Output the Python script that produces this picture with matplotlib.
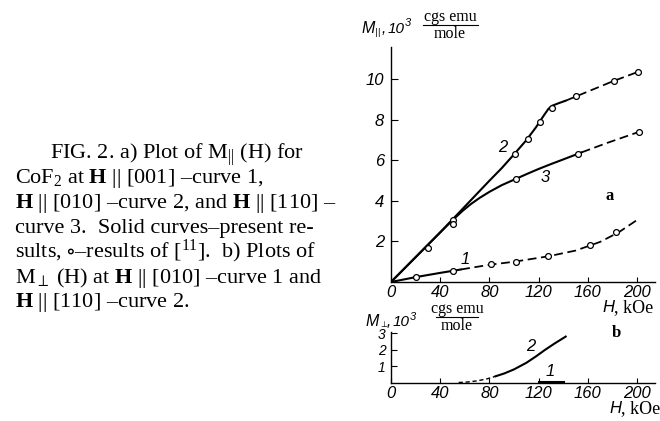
import matplotlib
matplotlib.use('Agg')
import matplotlib.pyplot as plt
from matplotlib.lines import Line2D

W, H = 660, 421

plt.rcParams['mathtext.fontset'] = 'custom'
plt.rcParams['mathtext.rm'] = 'Liberation Serif'
plt.rcParams['mathtext.it'] = 'Liberation Serif:italic'
plt.rcParams['mathtext.bf'] = 'Liberation Serif:bold'
plt.rcParams['mathtext.fallback'] = 'stix'

SANS = ['Liberation Sans', 'DejaVu Sans']
SERIF = ['Liberation Serif', 'DejaVu Serif']

# ---- data (a): M_par vs H, kOe / 10^3 cgs emu/mole ----
c1_solid_h = [0, 20, 40, 57]
c1_solid_m = [0, 0.24, 0.45, 0.62]
c1_dash_h = [57, 80, 100, 128, 150, 170, 185, 200]
c1_dash_m = [0.62, 0.85, 1.0, 1.27, 1.55, 1.98, 2.45, 3.06]
c1_pts_h = [20, 50, 81, 102, 128, 162, 183]
c1_pts_m = [0.26, 0.56, 0.87, 1.0, 1.27, 1.83, 2.47]

c2_solid_h = [0, 40, 80, 90, 100, 110, 118, 124, 128, 131, 136, 142]
c2_solid_m = [0, 2.45, 5.0, 5.62, 6.3, 7.0, 7.65, 8.2, 8.55, 8.7, 8.82, 8.95]
c2_dash_h = [142, 160, 180, 202]
c2_dash_m = [8.95, 9.4, 9.9, 10.4]
c2_pts_h = [30, 50, 101, 111, 121, 131, 150, 181, 201]
c2_pts_m = [1.7, 3.06, 6.32, 7.06, 7.9, 8.58, 9.17, 9.93, 10.39]

c3_solid_h = [0, 40, 50, 58, 65, 72, 80, 90, 100, 110, 120, 130, 140, 155]
c3_solid_m = [0, 2.45, 3.05, 3.5, 3.85, 4.15, 4.45, 4.78, 5.05, 5.32, 5.58, 5.82, 6.05, 6.4]
c3_dash_h = [155, 175, 202]
c3_dash_m = [6.4, 6.85, 7.42]
c3_pts_h = [50, 102, 152, 202]
c3_pts_m = [2.85, 5.09, 6.34, 7.42]

# ---- data (b): M_perp vs H ----
b2_dash_h = [55, 62, 70, 78, 85]
b2_dash_m = [0, 0.03, 0.1, 0.22, 0.38]
b2_solid_h = [85, 92, 100, 110, 118, 125, 133, 142]
b2_solid_m = [0.38, 0.55, 0.8, 1.2, 1.6, 1.98, 2.38, 2.8]
b1_solid_h = [120, 140]
b1_solid_m = [0.05, 0.05]

x_ticks = [0, 40, 80, 120, 160, 200]
ya_ticks = [2, 4, 6, 8, 10]
yb_ticks = [1, 2, 3]
caption = [
    (50, 'FIG. 2. a) Plot of M$_{||}$ (H) for'),
    (15, r'CoF$_2$ at $\mathbf{H}$ || [001] –curve 1,'),
    (15, r'$\mathbf{H}$ || [010] –curve 2, and $\mathbf{H}$ || [110] –'),
    (15, 'curve 3.  Solid curves–present re-'),
    (15, r'sults, $\circ$–results of [$^{11}$].  b) Plots of'),
    (15, r'M$_{\perp}$ (H) at $\mathbf{H}$ || [010] –curve 1 and'),
    (15, r'$\mathbf{H}$ || [110] –curve 2.'),
]


def fx(x):
    return x / W


def fy(y):
    return 1 - y / H


fig = plt.figure(figsize=(6.6, 4.21), dpi=100)
fig.patch.set_facecolor('white')

# axes rectangles from pixel positions
ax_a = fig.add_axes([fx(391), fy(282), (655 - 391) / W, (282 - 47) / H])
ax_b = fig.add_axes([fx(391), fy(382.5), (655 - 391) / W, (382.5 - 332) / H])

LW = 1.5
DASH = (5, 2.6)


def style_axes(ax, ylim, yticks, ylen, ypad, ysize):
    ax.set_xlim(0, 214.6)
    ax.set_ylim(*ylim)
    for s in ['top', 'right']:
        ax.spines[s].set_visible(False)
    for s in ['left', 'bottom']:
        ax.spines[s].set_linewidth(1.0)
    ax.set_xticks(x_ticks)
    ax.set_xticklabels([str(t) for t in x_ticks])
    ax.set_yticks(yticks)
    ax.set_yticklabels([str(t) for t in yticks])
    ax.tick_params(axis='x', direction='in', length=3.6, width=0.8, pad=2.5)
    ax.tick_params(axis='y', direction='in', length=ylen, width=0.8, pad=ypad)
    for lab in ax.get_xticklabels() + ax.get_yticklabels():
        lab.set_family(SANS)
        lab.set_style('italic')
        lab.set_fontsize(12)
    for lab in ax.get_yticklabels():
        lab.set_fontsize(ysize)
    ax.patch.set_alpha(0)


style_axes(ax_a, (0, 11.6), ya_ticks, 5, 5, 12)
style_axes(ax_b, (0, 3.08), yb_ticks, 4, 4, 10)

# curves (a)
for hs, ms in [(c1_solid_h, c1_solid_m), (c2_solid_h, c2_solid_m), (c3_solid_h, c3_solid_m)]:
    ax_a.plot(hs, ms, color='black', lw=LW, solid_capstyle='round', solid_joinstyle='round')
for hd, md in [(c1_dash_h, c1_dash_m), (c2_dash_h, c2_dash_m), (c3_dash_h, c3_dash_m)]:
    ax_a.plot(hd, md, color='black', lw=LW * 0.85, dashes=DASH)
for hp, mp in [(c1_pts_h, c1_pts_m), (c2_pts_h, c2_pts_m), (c3_pts_h, c3_pts_m)]:
    ax_a.plot(hp, mp, 'o', ms=4.2, mfc='white', mec='black', mew=0.9, clip_on=False, zorder=5)

# curves (b)
ax_b.plot(b2_dash_h, b2_dash_m, color='black', lw=1.0, dashes=(3, 2))
ax_b.plot(b2_solid_h, b2_solid_m, color='black', lw=LW, solid_joinstyle='round')
ax_b.plot(b1_solid_h, b1_solid_m, color='black', lw=2.2)

# curve numbers
num_kw = dict(family=SANS, style='italic', fontsize=12, ha='center', va='center')
for x, y, s in [(503, 148, '2'), (545, 177, '3'), (465, 260, '1'),
                (531, 346.5, '2'), (550, 371, '1')]:
    fig.text(fx(x), fy(y), s, **num_kw)

# panel letters
for x, y, s in [(610, 200, 'a'), (616, 337, 'b')]:
    fig.text(fx(x), fy(y), s, family=SERIF, fontsize=12, fontweight='bold',
             ha='center', va='baseline')


def ylabel(x0, yb, sub, sub_dy, fb_cx, fb_x0, fb_x1, fb_y):
    fig.text(fx(x0), fy(yb), 'M', family=SANS, style='italic', fontsize=11.5, va='baseline')
    fig.text(fx(x0 + 14), fy(yb + sub_dy), sub, family=['DejaVu Sans'], fontsize=6, va='baseline')
    fig.text(fx(x0 + 21), fy(yb), ',', family=SANS, style='italic', fontsize=11, va='baseline')
    fig.text(fx(x0 + 27), fy(yb), '10', family=SANS, style='italic', fontsize=11, va='baseline')
    fig.text(fx(x0 + 44), fy(yb - 7), '3', family=SANS, style='italic', fontsize=8, va='baseline')
    fig.text(fx(fb_cx), fy(fb_y - 3.5), 'cgs emu', family=SERIF, fontsize=11.5,
             ha='center', va='baseline')
    fig.text(fx(fb_cx), fy(fb_y + 13), 'mole', family=SERIF, fontsize=11.5,
             ha='center', va='baseline')
    fig.add_artist(Line2D([fx(fb_x0), fx(fb_x1)], [fy(fb_y), fy(fb_y)],
                          color='black', lw=0.8))


ylabel(361, 33, '||', 2, 450, 423, 478, 24.5)
ylabel(366, 326.5, '⊥', 0.5, 457, 436, 478, 316.5)

# x axis labels
for xh, yb in [(602, 312.5), (609, 413)]:
    fig.text(fx(xh), fy(yb), 'H', family=SANS, style='italic', fontsize=12, va='baseline')
    fig.text(fx(xh + 12), fy(yb), ', kOe', family=SERIF, fontsize=13, va='baseline')

# caption
for i, (x0, line) in enumerate(caption):
    fig.text(fx(x0), fy(158.5 + 24.8 * i), line, family=SERIF, fontsize=16,
             va='baseline', ha='left')

fig.savefig('out.png', dpi=100, facecolor='white')
